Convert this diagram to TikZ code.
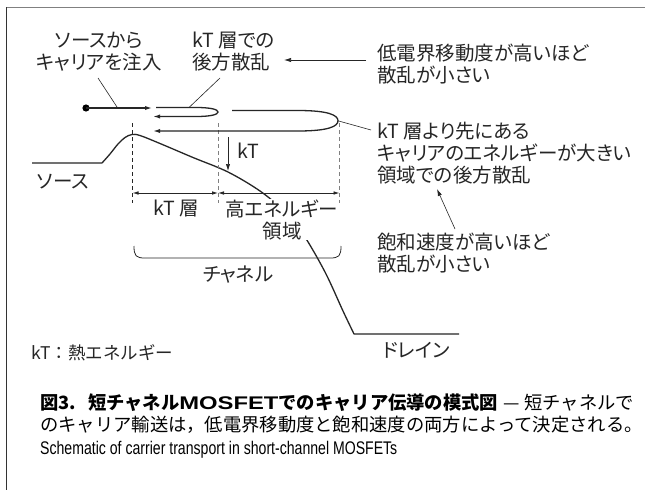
\documentclass[tikz,border=0pt]{standalone}
\usepackage{fontspec}
\setmainfont{Noto Sans CJK JP}
\newfontfamily\jpp[RawFeature=+palt]{Noto Sans CJK JP}
\newfontfamily\capen[FakeStretch=0.77]{Liberation Sans}
\newfontfamily\wideb[FakeStretch=1.3]{Liberation Sans}
\usetikzlibrary{arrows.meta}
\begin{document}
\begin{tikzpicture}[x=1pt,y=-1pt,
  lbl/.style={inner sep=0pt, text=black!85, font=\jpp\fontsize{19.5}{22}\selectfont},
  small/.style={inner sep=0pt, text=black!85, font=\fontsize{17.5}{21}\selectfont},
  captxt/.style={inner sep=0pt, text=black, font=\fontsize{18.3}{22}\selectfont},
  heavy/.style={line width=1.3pt, draw=black!85},
  leader/.style={line width=0.6pt, draw=black!85},
  tip/.style={-{Latex[length=7pt,width=4.2pt]}},
  dimline/.style={line width=0.8pt, draw=black!85, {Latex[length=6pt,width=3.6pt]}-{Latex[length=6pt,width=3.6pt]}},
  guide/.style={line width=0.7pt, dash pattern=on 4pt off 3pt},
]
\useasboundingbox (0,0) rectangle (645,490);
\fill[white] (0,0) rectangle (645,490);
% frame
\draw[line width=1.6pt, draw=black!50] (6,7.5) -- (645,7.5);
\draw[line width=1pt, draw=black!80] (6,7) -- (6,490);

% texts top
\node[lbl, align=center] (inj) at (99,52) {ソースから\\キャリアを注入};
\node[lbl, align=left, anchor=west] (bs1) at (192,52) {kT 層での\\後方散乱};
\node[lbl, align=left, anchor=west] (mob) at (377,64) {低電界移動度が高いほど\\散乱が小さい};
\node[lbl, align=left, anchor=west] (bs2) at (377,153.5) {kT 層より先にある\\キャリアのエネルギーが大きい\\領域での後方散乱};
\node[lbl, align=left, anchor=west] (sat) at (377,253.5) {飽和速度が高いほど\\散乱が小さい};

% coordinates
\coordinate (dot) at (86,108);
\coordinate (injend) at (152,108);
\coordinate (s1) at (156,107.5);
\coordinate (s1tip) at (218,112);
\coordinate (s1end) at (153,116.5);
\coordinate (b1) at (232,110.5);
\coordinate (b1tip) at (338,120.8);
\coordinate (b1end) at (153,131);
\coordinate (mobtail) at (366,60);
\coordinate (mobhead) at (284,60);
\coordinate (injA) at (98,78);
\coordinate (injB) at (117,107);
\coordinate (bsA) at (220,78);
\coordinate (bsB) at (189,107.5);
\coordinate (bs2B) at (371,130);
\coordinate (sattail) at (455,229);
\coordinate (sathead) at (437,189);

% energy band
\draw[heavy, line join=round] (32,163) -- (102,163)
  plot[smooth, tension=0.55] coordinates {(102,163) (110,154) (118,144) (125,137.5) (132,134.5) (140,135.5) (160,143.5) (193,157.5) (228,172) (260,191) (284,211) (303,234) (325,272) (343,311) (354,334)}
  -- (459,334);

% dashed guides
\draw[guide, draw=black!85] (132.5,123) -- (132.5,203);
\draw[guide, draw=black!50] (218,123) -- (218,203);
\draw[guide, draw=black!50] (339.5,123) -- (339.5,203);

% injection
\fill[black] (dot) circle (3.6pt);
\draw[line width=1.2pt, draw=black!85, tip] (dot) -- (injend);
% small loop
\draw[heavy, tip] (s1) -- (196,107.5) .. controls (211,107.5) and (218,109.5) .. (s1tip)
  .. controls (218,114.5) and (211,116.5) .. (196,116.5) -- (s1end);
% big loop
\draw[heavy, tip] (b1) -- (298,110.5) .. controls (328,110.5) and (338,115) .. (b1tip)
  .. controls (338,126.5) and (328,131) .. (298,131) -- (b1end);

% leaders
\draw[leader] (injA) -- (injB);
\draw[leader] (bsA) -- (bsB);
\draw[leader] (b1tip) -- (bs2B);
\draw[leader, tip] (mobtail) -- (mobhead);
\draw[leader, tip] (sattail) -- (sathead);

% kT arrow
\coordinate (kTa) at (228,137);
\coordinate (kTb) at (228,171);
\draw[leader, tip] (kTa) -- (kTb);
\node[lbl, anchor=west] (kT) at (237,151) {kT};

\node[lbl, anchor=west] (src) at (37,182) {ソース};

% dimension arrows
\coordinate (d1) at (132.5,193);
\coordinate (d2) at (218,193);
\coordinate (d3) at (339.5,193);
\draw[dimline] (d1) -- (d2);
\draw[dimline] (d2) -- (d3);
\node[lbl] (kTl) at (176,208.5) {kT 層};
\node[lbl, align=center, fill=white, inner sep=0.5pt] (hi) at (282,219.5) {高エネルギー\\領域};

% brace
\draw[line width=0.8pt, draw=black!85] (134,246) .. controls (134,256) and (136,258) .. (145,258) -- (330,258) .. controls (339,258) and (341,256) .. (341,246);
\node[lbl] (ch) at (238,275) {チャネル};

\node[lbl] (drain) at (416,350) {ドレイン};
\node[small, anchor=west] (note) at (31,353) {kT：熱エネルギー};

% caption
\node[captxt, anchor=west] (cap1) at (40,403) {{\bfseries 図3.\hspace{12pt}短チャネル{\wideb\bfseries MOSFET}でのキャリア伝導の模式図}\hspace{5pt}—\hspace{5pt}短チャネルで};
\node[captxt, anchor=west] (cap2) at (40,425) {のキャリア輸送は，低電界移動度と飽和速度の両方によって決定される。};
\node[inner sep=0pt, anchor=west, font=\capen\fontsize{18.3}{20}\selectfont] (cap3) at (40,450) {Schematic of carrier transport in short-channel MOSFETs};
\end{tikzpicture}
\end{document}
